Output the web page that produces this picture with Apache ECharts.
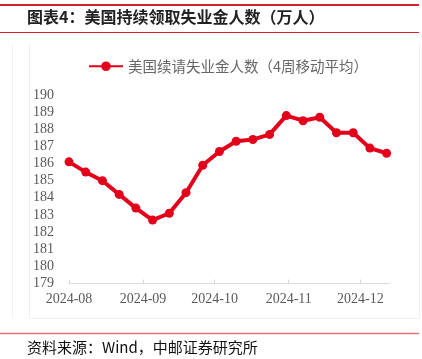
<!DOCTYPE html>
<html>
<head>
<meta charset="utf-8">
<script src="https://cdn.jsdelivr.net/npm/echarts@6/dist/echarts.min.js"></script>
<style>
html,body{margin:0;padding:0;background:#fff;}
#c{width:422px;height:359px;}
</style>
</head>
<body>
<div id="c"></div>
<script>
var dates = ['2024-08-01','2024-08-08','2024-08-15','2024-08-22','2024-08-29',
  '2024-09-05','2024-09-12','2024-09-19','2024-09-26','2024-10-03',
  '2024-10-10','2024-10-17','2024-10-24','2024-10-31','2024-11-07',
  '2024-11-14','2024-11-21','2024-11-28','2024-12-05','2024-12-12'];
var claims4wk = [186.1,185.5,185.0,184.2,183.4,182.7,183.1,184.3,185.9,186.7,
  187.3,187.4,187.7,188.8,188.5,188.7,187.8,187.8,186.9,186.6];
var seriesName = '美国续请失业金人数（4周移动平均）';
var titleText = '图表4：美国持续领取失业金人数（万人）';
var sourceText = '资料来源：Wind，中邮证券研究所';

var chart = echarts.init(document.getElementById('c'), null, {renderer:'canvas'});
var DAY = 86400000;
var data = dates.map(function(d,i){return [d, claims4wk[i]];});
chart.setOption({
  animation:false,
  backgroundColor:'#fff',
  graphic:[
    {type:'line',shape:{x1:0,y1:5,x2:419,y2:5},style:{stroke:'#d7202a',lineWidth:2}},
    {type:'text',left:27,top:9,style:{text:titleText,font:'bold 16px "Noto Sans CJK SC"',fill:'#222'}},
    {type:'line',shape:{x1:0,y1:32.5,x2:419,y2:32.5},style:{stroke:'#d7202a',lineWidth:1}},
    {type:'line',shape:{x1:12.5,y1:44,x2:12.5,y2:318},style:{stroke:'#f2f2f2',lineWidth:1}},
    {type:'line',shape:{x1:29.5,y1:44,x2:29.5,y2:318.5},style:{stroke:'#f0f0f0',lineWidth:1}},
    {type:'line',shape:{x1:29.5,y1:318.5,x2:419.5,y2:318.5},style:{stroke:'#f0f0f0',lineWidth:1}},
    {type:'line',shape:{x1:419.5,y1:44,x2:419.5,y2:318.5},style:{stroke:'#f0f0f0',lineWidth:1}},
    {type:'line',shape:{x1:0,y1:333.5,x2:419,y2:333.5},style:{stroke:'#e57373',lineWidth:1.5}},
    {type:'text',left:27,top:340,style:{text:sourceText,font:'15px "Noto Sans CJK SC"',fill:'#111'}}
  ],
  legend:{
    top:59,left:88,padding:0,
    itemWidth:34,itemHeight:12,itemGap:4,
    textStyle:{color:'#666',fontSize:14.5,fontFamily:'Noto Sans CJK SC'},
    data:[{name:seriesName}]
  },
  grid:{left:69,right:33,top:95,bottom:75.5,containLabel:false},
  xAxis:{
    type:'time',
    min:'2024-08-01',max:'2024-12-13',
    minInterval:28*DAY,maxInterval:31*DAY,
    axisLine:{lineStyle:{color:'#d9d9d9',width:1}},
    axisTick:{inside:true,length:4,lineStyle:{color:'#d9d9d9'}},
    splitLine:{show:false},
    axisLabel:{
      color:'#595959',fontSize:14,fontFamily:'Liberation Serif',margin:9,
      showMinLabel:true,showMaxLabel:false,
      formatter:function(v){return echarts.time.format(v,'{yyyy}-{MM}',false);}
    }
  },
  yAxis:{
    type:'value',min:179,max:190,interval:1,
    axisLine:{show:false},axisTick:{show:false},splitLine:{show:false},
    axisLabel:{color:'#595959',fontSize:14,fontFamily:'Liberation Serif',margin:15}
  },
  series:[{
    name:seriesName,type:'line',data:data,
    symbol:'circle',symbolSize:9,
    lineStyle:{color:'#e3001b',width:4},
    itemStyle:{color:'#e3001b'}
  }]
});
</script>
</body>
</html>
